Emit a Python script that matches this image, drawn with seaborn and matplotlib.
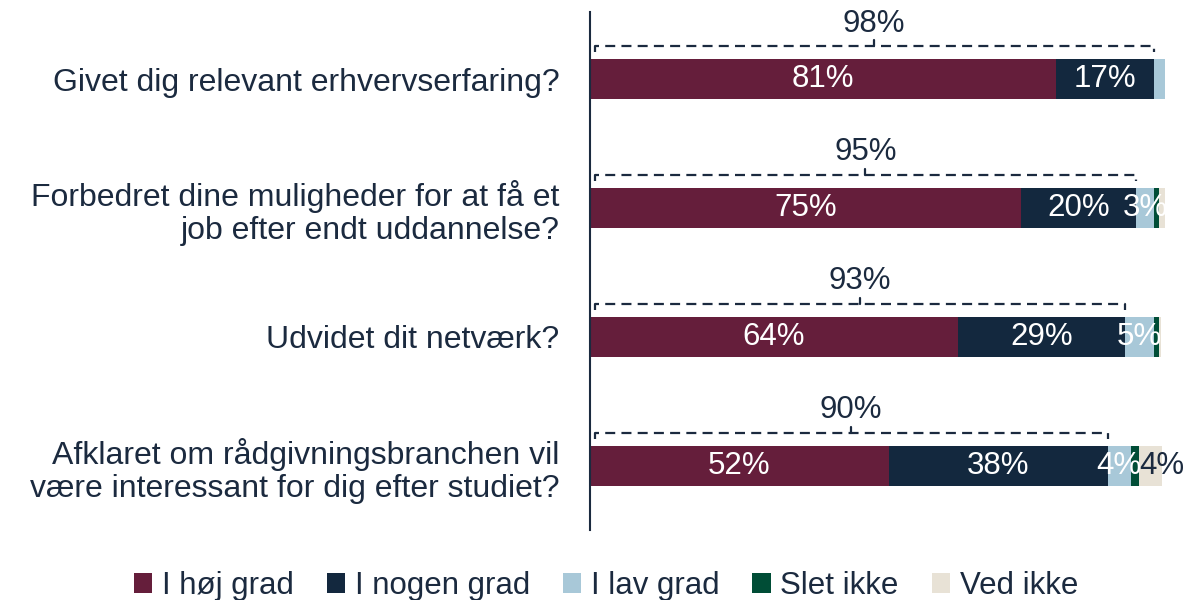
import matplotlib
matplotlib.use("Agg")
import matplotlib.pyplot as plt
import seaborn as sns
import pandas as pd
import numpy as np
from matplotlib.patches import Patch
from matplotlib import font_manager

questions = [
    "Givet dig relevant erhvervserfaring?",
    "Forbedret dine muligheder for at få et\njob efter endt uddannelse?",
    "Udvidet dit netværk?",
    "Afklaret om rådgivningsbranchen vil\nvære interessant for dig efter studiet?",
]
series_names = ["I høj grad", "I nogen grad", "I lav grad", "Slet ikke", "Ved ikke"]
hoj = [81, 75, 64, 52]
nogen = [17, 20, 29, 38]
lav = [2, 3, 5, 4]
slet = [0, 1, 1, 1.4]
ved = [0, 1, 0.3, 4]
totals_label = [98, 95, 93, 90]

colors = ["#651E3B", "#13283E", "#A8C8D8", "#004D36", "#E8E2D6"]
text_dark = "#1B2A3F"

sns.set_theme(style="white")
names = {f.name for f in font_manager.fontManager.ttflist}
main_font = "Liberation Sans" if "Liberation Sans" in names else "DejaVu Sans"
legend_font = "Liberation Sans Narrow" if "Liberation Sans Narrow" in names else main_font
plt.rcParams["font.family"] = [main_font, "DejaVu Sans"]

values = np.array([hoj, nogen, lav, slet, ved], dtype=float)
cum = np.cumsum(values, axis=0)

fig = plt.figure(figsize=(11.88, 6), dpi=100)
ax = fig.add_axes([590 / 1188, 70 / 600, 1 - 590 / 1188, 518 / 600])

bar_h = 0.31
for i in range(len(series_names) - 1, -1, -1):
    df = pd.DataFrame({"q": questions, "v": cum[i]})
    sns.barplot(data=df, y="q", x="v", orient="h", color=colors[i],
                width=bar_h, ax=ax, saturation=1, edgecolor="none", linewidth=0)

# value labels
for j in range(len(questions)):
    left = 0
    for i in range(len(series_names)):
        v = values[i, j]
        if v >= 3:
            cx = left + v / 2
            col = "white"
            if i == 4:
                col = text_dark
                cx += 2
            ax.text(cx, j, f"{int(round(v))}%", ha="center", va="center",
                    color=col, fontsize=22.5)
        left += v

# brackets
for j, tot in enumerate(totals_label):
    x0, x1 = 0.8, tot
    yl = j - bar_h / 2 - 0.1
    tick = 0.045
    xs = [x0, x0, x1, x1]
    ys = [yl + tick, yl, yl, yl + tick]
    ax.plot(xs, ys, color=text_dark, lw=1.6, dashes=(4.5, 2.8),
            solid_capstyle="butt", dash_capstyle="butt")
    xm = (x0 + x1) / 2
    ax.plot([xm, xm], [yl, yl - tick], color=text_dark, lw=1.6)
    ax.text(xm, yl - 0.175, f"{tot}%", ha="center", va="center",
            color=text_dark, fontsize=22.5)

ax.set_xlim(0, 104)
ax.set_ylim(3.5, -0.52)
ax.set_xlabel("")
ax.set_ylabel("")
ax.set_xticks([])
for s in ["top", "right", "bottom"]:
    ax.spines[s].set_visible(False)
ax.spines["left"].set_color(text_dark)
ax.spines["left"].set_linewidth(1.5)
ax.tick_params(axis="y", length=0, pad=22, labelsize=23, labelcolor=text_dark)
for lab in ax.get_yticklabels():
    lab.set_horizontalalignment("right")
    lab.set_multialignment("right")
    lab.set_linespacing(1.15)

handles = [Patch(facecolor=c, edgecolor="none") for c in colors]
fig.legend(handles, series_names, loc="lower center", bbox_to_anchor=(0.51, -0.048),
           ncol=5, frameon=False, handlelength=0.6, handleheight=0.6,
           handletextpad=0.3, columnspacing=1.05,
           prop={"family": [legend_font, "DejaVu Sans"], "size": 22.5},
           labelcolor=text_dark)

fig.savefig("out.png", dpi=100)
